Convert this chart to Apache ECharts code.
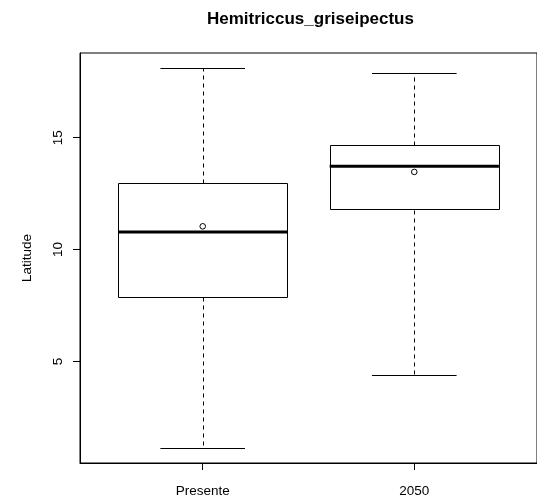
<!DOCTYPE html>
<html>
<head>
<meta charset="utf-8">
<script src="https://cdn.jsdelivr.net/npm/echarts@6/dist/echarts.min.js"></script>
<style>
html,body{margin:0;padding:0;background:#fff;}
#chart{width:537px;height:503px;}
</style>
</head>
<body>
<div id="chart"></div>
<script>
const categories = ['Presente', '2050'];
const lowerWhisker = [1.14, 4.41];
const q1 = [7.88, 11.79];
const medians = [10.79, 13.72];
const q3 = [12.96, 14.65];
const upperWhisker = [18.12, 17.88];
const means = [11.04, 13.47];
const yTicks = [5, 10, 15];

const data = categories.map((c, i) => [i + 1, lowerWhisker[i], q1[i], medians[i], q3[i], upperWhisker[i], means[i]]);

function px(v) { return Math.round(v) + 0.5; }

const chart = echarts.init(document.getElementById('chart'), null, {renderer: 'canvas'});
chart.setOption({
  backgroundColor: '#fff',
  animation: false,
  title: {
    text: 'Hemitriccus_griseipectus',
    left: 207,
    top: 11,
    padding: 0,
    textStyle: {fontFamily: 'Liberation Sans', fontWeight: 'bold', fontSize: 17, color: '#000'}
  },
  grid: {left: 80, top: 53, bottom: 40, right: -6, show: true, borderColor: '#000', borderWidth: 1, backgroundColor: 'transparent'},
  xAxis: {
    type: 'value', min: 0.42, max: 2.58,
    axisLine: {show: true, lineStyle: {color: '#000'}},
    axisTick: {show: true, customValues: [1, 2], length: 7, lineStyle: {color: '#000'}},
    axisLabel: {customValues: [1, 2], formatter: v => categories[Math.round(v) - 1], margin: 21, fontFamily: 'Liberation Sans', fontSize: 13.5, color: '#000'},
    splitLine: {show: false}
  },
  yAxis: {
    type: 'value', min: 0.47, max: 18.78,
    name: 'Latitude', nameLocation: 'middle', nameGap: 46,
    nameTextStyle: {fontFamily: 'Liberation Sans', fontSize: 13.5, color: '#000'},
    axisLine: {show: true, lineStyle: {color: '#000'}},
    axisTick: {show: true, customValues: yTicks, length: 7, lineStyle: {color: '#000'}},
    axisLabel: {customValues: yTicks, rotate: 90, margin: 15, fontFamily: 'Liberation Sans', fontSize: 13.5, color: '#000'},
    splitLine: {show: false}
  },
  series: [{
    type: 'custom',
    data: data,
    encode: {x: 0, y: [1, 2, 3, 4, 5]},
    renderItem: function (params, api) {
      const x = api.value(0);
      const lo = api.coord([x, api.value(1)]);
      const b1 = api.coord([x, api.value(2)]);
      const md = api.coord([x, api.value(3)]);
      const b3 = api.coord([x, api.value(4)]);
      const hi = api.coord([x, api.value(5)]);
      const mn = api.coord([x, api.value(6)]);
      const cx = lo[0];
      const halfW = api.size([0.4, 0])[0];
      const capHalf = api.size([0.2, 0])[0];
      const stroke = '#000';
      return {
        type: 'group',
        children: [
          {type: 'line', shape: {x1: px(cx), y1: px(b1[1]), x2: px(cx), y2: px(lo[1])}, style: {stroke, lineWidth: 1, lineDash: [4, 4]}},
          {type: 'line', shape: {x1: px(cx), y1: px(b3[1]), x2: px(cx), y2: px(hi[1])}, style: {stroke, lineWidth: 1, lineDash: [4, 4]}},
          {type: 'line', shape: {x1: cx - capHalf, y1: px(lo[1]), x2: cx + capHalf, y2: px(lo[1])}, style: {stroke, lineWidth: 1}},
          {type: 'line', shape: {x1: cx - capHalf, y1: px(hi[1]), x2: cx + capHalf, y2: px(hi[1])}, style: {stroke, lineWidth: 1}},
          {type: 'rect', shape: {x: px(cx - halfW), y: px(b3[1]), width: Math.round(2 * halfW), height: Math.round(b1[1] - b3[1])}, style: {fill: '#fff', stroke, lineWidth: 1}},
          {type: 'line', shape: {x1: cx - halfW, y1: md[1], x2: cx + halfW, y2: md[1]}, style: {stroke, lineWidth: 3}},
          {type: 'circle', shape: {cx: cx, cy: mn[1], r: 2.8}, style: {fill: '#fff', stroke, lineWidth: 1}}
        ]
      };
    }
  }]
});
</script>
</body>
</html>
